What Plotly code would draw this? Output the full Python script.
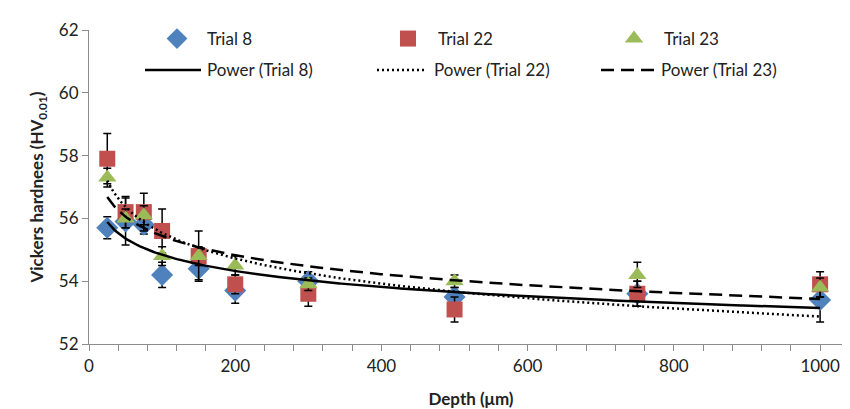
import numpy as np
import plotly.graph_objects as go

depth = [25, 50, 75, 100, 150, 200, 300, 500, 750, 1000]
trial8 = [55.7, 55.9, 55.8, 54.2, 54.4, 53.7, 54.0, 53.5, 53.6, 53.4]
trial22 = [57.9, 56.2, 56.2, 55.6, 54.8, 53.9, 53.6, 53.1, 53.6, 53.9]
trial23 = [57.3, 56.0, 56.1, 54.8, 54.8, 54.5, 53.9, 54.0, 54.2, 53.8]
err8 = [0.35, 0.75, 0.3, 0.4, 0.35, 0.4, 0.3, 0.3, 0.4, 0.7]
err22 = [0.8, 0.5, 0.6, 0.7, 0.8, 0.3, 0.4, 0.4, 0.4, 0.4]
err23 = [0.3, 0.3, 0.3, 0.3, 0.3, 0.3, 0.2, 0.2, 0.4, 0.3]

names = ["Trial 8", "Trial 22", "Trial 23"]
colors = ["#4F81BD", "#C0504D", "#9BBB59"]
symbols = ["diamond", "square", "triangle-up"]
dashes = ["solid", "2px,3px", "13px,7px"]
series = [trial8, trial22, trial23]
errors = [err8, err22, err23]

FONT = "Lato, 'Open Sans', sans-serif"

# plot-area geometry (pixels) used only to place the legend
L, R, T, B = 81, 845, 22, 336
def px(x):
    return (x - L) / (R - L)
def py(y):
    return (B - y) / (B - T)

fig = go.Figure()
legend_ids = ["legend", "legend2", "legend3"]
for n, c, s, y, e, lg in zip(names, colors, symbols, series, errors, legend_ids):
    fig.add_trace(go.Scatter(
        x=depth, y=y, mode="markers", name=n,
        marker=dict(symbol=s, color=c, size=16 if s != "diamond" else 17),
        error_y=dict(type="data", array=e, visible=True, color="black",
                     thickness=1.5, width=4),
        legend=lg))

xs = np.linspace(min(depth), max(depth), 400)
for n, d, y in zip(names, dashes, series):
    b, lna = np.polyfit(np.log(depth), np.log(y), 1)
    ys = np.exp(lna) * xs ** b
    fig.add_trace(go.Scatter(
        x=xs, y=ys, mode="lines", name=f"Power ({n})",
        line=dict(color="black", width=2.5, dash=d),
        showlegend=False))

axis_common = dict(showline=True, linecolor="#8c8c8c", linewidth=1.2,
                   ticks="outside", tickcolor="#8c8c8c", ticklen=6,
                   showgrid=False, zeroline=False, automargin=False,
                   tickfont=dict(family=FONT, size=17, color="#222"))

leg_common = dict(orientation="h", xanchor="left", yanchor="middle",
                  font=dict(family=FONT, size=17, color="#222"),
                  bgcolor="rgba(0,0,0,0)", itemwidth=50)
marker_x = [165, 396, 622]
row1_y = 31
legends = {}
for lg, mx in zip(legend_ids, marker_x):
    legends[lg] = dict(x=px(mx - 26), y=py(row1_y), **leg_common)

# second legend row: trend-line samples
line_spans = [(137, 193), (369, 418), (593, 647)]
text_x = [197, 424, 651]
row2_y = 62
shapes, annotations = [], []
for (x0, x1), tx, n, d in zip(line_spans, text_x, names, dashes):
    shapes.append(dict(type="line", xref="paper", yref="paper",
                       x0=px(x0), x1=px(x1), y0=py(row2_y), y1=py(row2_y),
                       line=dict(color="black", width=2.5, dash=d)))
    annotations.append(dict(xref="paper", yref="paper", x=px(tx), y=py(row2_y),
                            xanchor="left", yanchor="middle", showarrow=False,
                            text=f"Power ({n})",
                            font=dict(family=FONT, size=17, color="#222")))

fig.update_layout(
    width=850, height=409,
    margin=dict(l=L, r=850 - R, t=T, b=409 - B),
    plot_bgcolor="white", paper_bgcolor="white",
    font=dict(family=FONT, color="#222"),
    xaxis=dict(range=[0, 1045], tickmode="array",
               tickvals=[0, 200, 400, 600, 800, 1000],
               minor=dict(dtick=40, tick0=0, ticks="outside", ticklen=6,
                          tickcolor="#8c8c8c"),
               title=dict(text="<b>Depth (μm)</b>",
                          font=dict(family=FONT, size=17), standoff=18),
               **axis_common),
    yaxis=dict(range=[52, 62], tickmode="array",
               tickvals=[52, 54, 56, 58, 60, 62],
               title=dict(text="<b>Vickers hardnees (HV<sub>0.01</sub>)</b>",
                          font=dict(family=FONT, size=17), standoff=10),
               **axis_common),
    shapes=shapes, annotations=annotations,
    **legends,
)

fig.write_html("out.html")
